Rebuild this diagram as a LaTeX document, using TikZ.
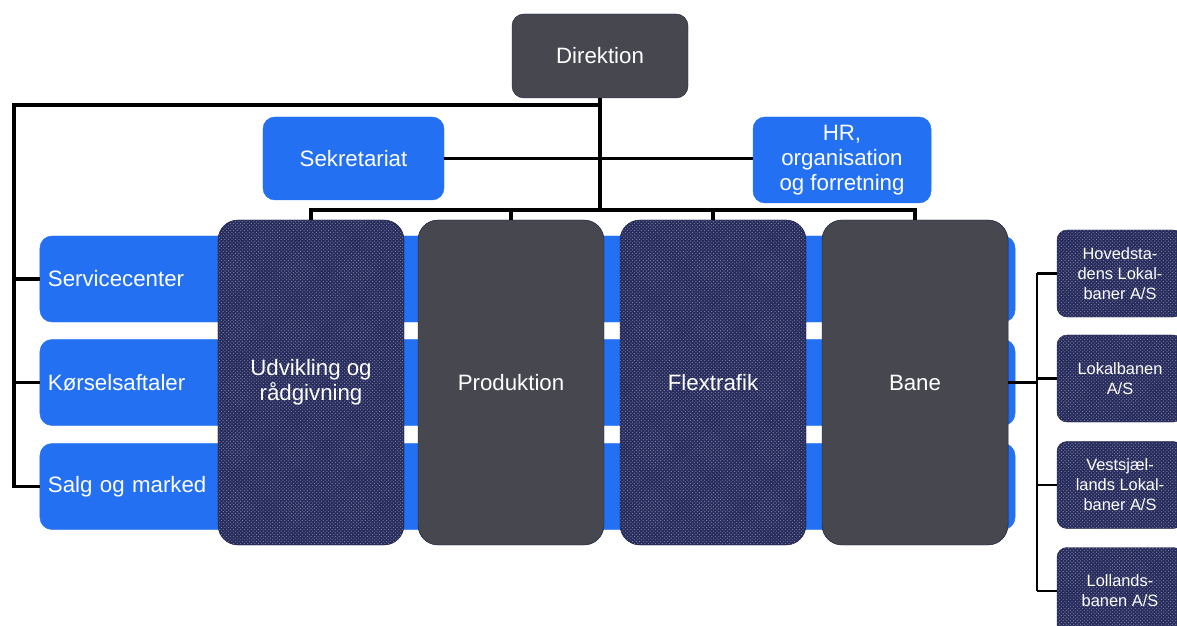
\documentclass[tikz,border=0pt]{standalone}
\usepackage{fontspec}
\setmainfont{Liberation Sans}
\usepackage{tikz}
\usepackage{xcolor}
\usetikzlibrary{patterns, positioning, calc}

\definecolor{orgblue}{HTML}{2370F2}
\definecolor{orggray}{HTML}{46474F}
\definecolor{orgnavy}{HTML}{262B5C}
\definecolor{orgedge}{HTML}{1C2040}
\definecolor{orgdots}{HTML}{868AA8}

\tikzset{
    box/.style={draw=orgedge, thin, rounded corners=0.36cm, text=white, align=center,
        font=\fontsize{19}{21.5}\selectfont, inner sep=0pt},
    bluebox/.style={box, draw=orgblue, fill=orgblue},
    graybox/.style={box, fill=orggray},
    patbox/.style={box, preaction={fill=orgnavy}, pattern=crosshatch dots, pattern color=orgdots},
    rowbar/.style={bluebox, minimum width=29.25cm, text width=28.77cm, align=left, inner xsep=0.24cm},
    column/.style={minimum width=5.58cm, minimum height=9.75cm, rounded corners=0.6cm},
    company/.style={patbox, minimum width=3.78cm, minimum height=2.61cm, rounded corners=0.3cm,
        font=\fontsize{14}{17}\selectfont},
    link/.style={line width=3.2pt},
    sublink/.style={line width=2pt}
}

\begin{document}
\begin{tikzpicture}[x=0.03cm, y=-0.03cm]
    \useasboundingbox (0,0) rectangle (1177,626);

    % Top management and staff
    \node[graybox, minimum width=5.28cm, minimum height=2.52cm] (dir) at (600,56) {Direktion};
    \node[bluebox, minimum width=5.43cm, minimum height=2.49cm] (sek) at (353.5,158.5) {Sekretariat};
    \node[bluebox, minimum width=5.34cm, minimum height=2.58cm] (hr) at (842,160) {HR,\\organisation\\og forretning};

    % The three blue rows behind the columns
    \foreach \n/\y/\t in {serv/279/Servicecenter, kor/382.5/Kørselsaftaler, salg/486.5/Salg og marked} {
        \node[rowbar, minimum height=2.58cm] (\n) at (527.5,\y) {\t};
    }

    % The four divisions
    \node[patbox, column] (udv) at (311,382.5) {Udvikling og\\rådgivning};
    \node[graybox, column] (prod) at (511,382.5) {Produktion};
    \node[patbox, column] (flex) at (713,382.5) {Flextrafik};
    \node[graybox, column] (bane) at (915,382.5) {Bane};

    % Companies under Bane
    \node[company] (hov) at (1120,273.5) {Hovedsta-\\dens Lokal-\\baner A/S};
    \node[company] (lok) at (1120,378.5) {Lokalbanen\\A/S};
    \node[company] (ves) at (1120,485) {Vestsjæl-\\lands Lokal-\\baner A/S};
    \node[company] (lol) at (1120,591) {Lollands-\\banen A/S};

    % Connectors from the top
    \coordinate (hub) at (600,210);
    \coordinate (lt) at (14,105);
    \draw[link] (dir.south) -- (hub);
    \draw[link] (sek.east) -- (sek.east -| hr.west);
    \draw[link] (udv.north) -- (udv.north |- hub) -- (bane.north |- hub) -- (bane.north);
    \draw[link] (prod.north) -- (prod.north |- hub);
    \draw[link] (flex.north) -- (flex.north |- hub);

    % Left tree to the rows
    \draw[link] (dir.south |- lt) -- (lt) -- (lt |- salg.west) -- (salg.west);
    \foreach \n in {serv, kor} {
        \draw[link] (lt |- \n.west) -- (\n.west);
    }

    % Right tree to the companies
    \coordinate (rt) at (1037,382.5);
    \draw[sublink] (bane.east) -- (rt);
    \draw[sublink] (rt |- hov.west) -- (rt |- lol.west);
    \foreach \n in {hov, lok, ves, lol} {
        \draw[sublink] (rt |- \n.west) -- (\n.west);
    }
\end{tikzpicture}
\end{document}
